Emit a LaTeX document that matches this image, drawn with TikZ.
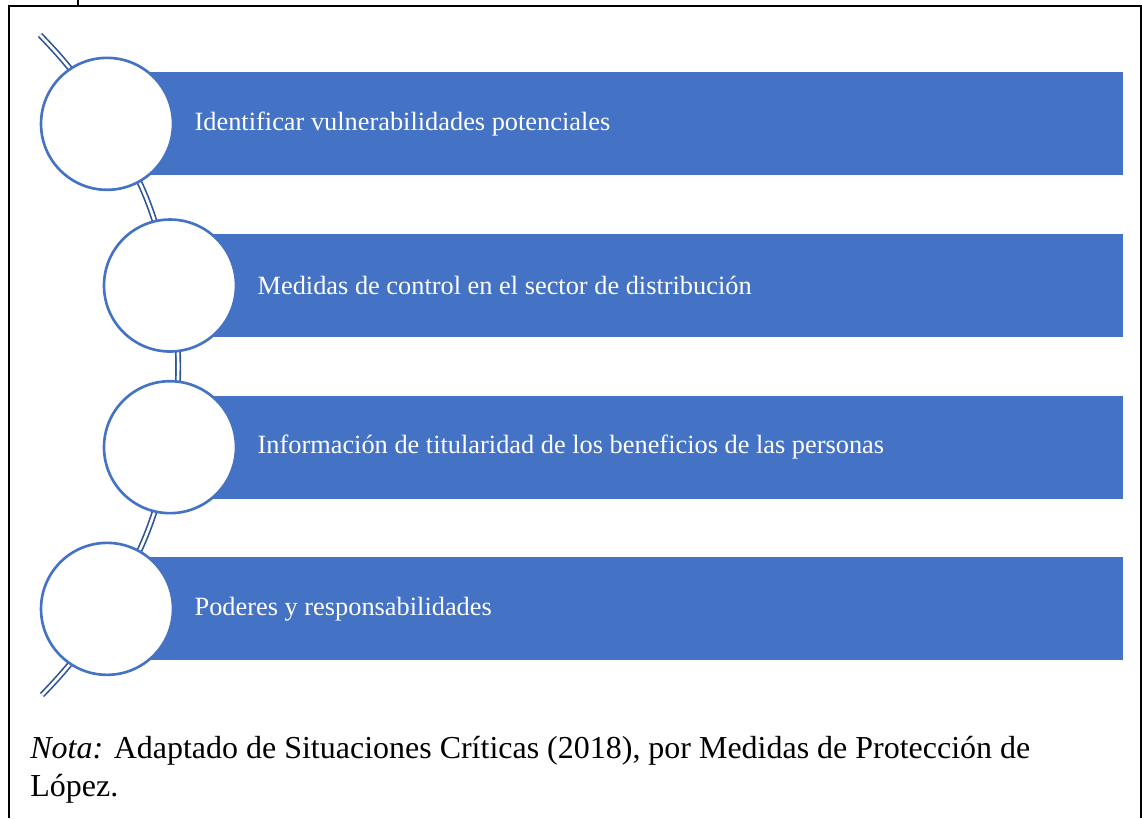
\documentclass[tikz,border=0pt]{standalone}
\usepackage{fontspec}
\setmainfont{Liberation Serif}
\usetikzlibrary{positioning,backgrounds}
\definecolor{barblue}{RGB}{68,114,196}
\definecolor{linkblue}{RGB}{47,85,151}

\begin{document}
\begin{tikzpicture}[
    x=0.02cm, y=-0.02cm,
    node distance=1.16cm,
    bar/.style={fill=barblue,minimum width=19.46cm,minimum height=2.06cm,
      inner sep=0pt},
    dot/.style={circle,draw=barblue,line width=1.5pt,fill=white,
      minimum size=2.64cm,inner sep=0pt},
    lbl/.style={text=white,inner sep=0pt,font=\fontsize{15}{18}\selectfont},
    link/.style={draw=linkblue,line width=0.95pt,double=white,
      double distance=1.5pt}
  ]
    \useasboundingbox (0,0) rectangle (1142,818);
    \draw[line width=0.85pt] (9,818) -- (9,6) -- (1141,6) -- (1141,818);
    \draw[line width=0.85pt] (78,0) -- (78,6);

    \node[bar,anchor=north west] (bar1) at (150,72) {};
    \node[bar,below=of bar1] (bar2) {};
    \node[bar,below=of bar2] (bar3) {};
    \node[bar,below=of bar3] (bar4) {};

    \node[dot] (c1) at ([xshift=-0.86cm]bar1.west) {};
    \node[dot] (c2) at ([xshift=0.4cm]bar2.west) {};
    \node[dot] (c3) at ([xshift=0.4cm]bar3.west) {};
    \node[dot] (c4) at ([xshift=-0.86cm]bar4.west) {};

    \node[lbl,right=0.4cm of c1] (t1) {Identificar vulnerabilidades potenciales};
    \node[lbl,right=0.4cm of c2] (t2) {Medidas de control en el sector de distribución};
    \node[lbl,right=0.4cm of c3] (t3)
      {Información de titularidad de los beneficios de las personas};
    \node[lbl,right=0.4cm of c4] (t4) {Poderes y responsabilidades};

    \coordinate (top) at (40,35);
    \coordinate (bot) at (42,695);
    \begin{scope}[on background layer]
      \draw[link] (top) to[bend left=7] (c1.center) to[bend left=11] (c2.center)
        to[bend left=10] (c3.center) to[bend left=11] (c4.center)
        to[bend left=7] (bot);
    \end{scope}

    \node[anchor=base west,align=left,inner sep=0pt,
      font=\fontsize{18.2}{21.6}\selectfont] (nota) at (30,796)
      {\textit{Nota:} Adaptado de Situaciones Críticas (2018), por Medidas de Protección de\\López.};
  \end{tikzpicture}
\end{document}
